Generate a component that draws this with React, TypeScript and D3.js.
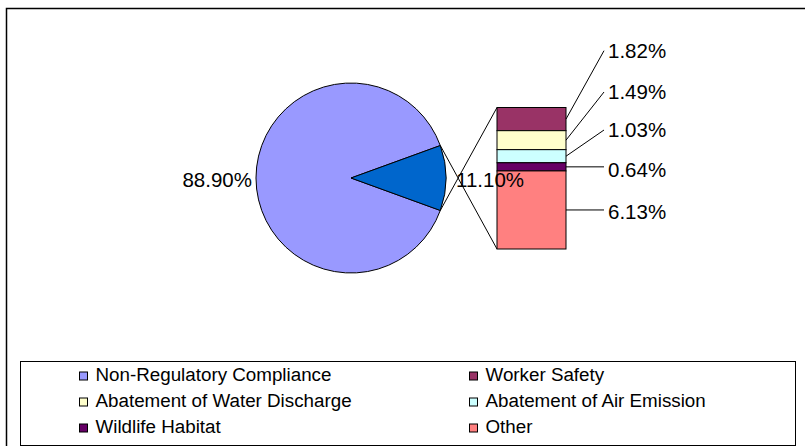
import React from "react";
import * as d3 from "d3";

const pieLabels = ["Non-Regulatory Compliance", "Regulatory Compliance"];
const pieValues = [88.9, 11.1];
const pieText = ["88.90%", "11.10%"];

const barCategories = ["Worker Safety", "Abatement of Water Discharge", "Abatement of Air Emission", "Wildlife Habitat", "Other"];
const barValues = [1.82, 1.49, 1.03, 0.64, 6.13];
const barText = ["1.82%", "1.49%", "1.03%", "0.64%", "6.13%"];
const barColors = ["#993366", "#FFFFCC", "#CCFFFF", "#660066", "#FF8080"];

const legendItems = [
  "Non-Regulatory Compliance", "Worker Safety",
  "Abatement of Water Discharge", "Abatement of Air Emission",
  "Wildlife Habitat", "Other",
];
const legendColors = ["#9999FF", "#993366", "#FFFFCC", "#CCFFFF", "#660066", "#FF8080"];
const pieColors = ["#9999FF", "#0066CC"];

export default function App() {
  const W = 805, H = 446;
  const cx = 351, cy = 178, r = 95;
  const font = "'Liberation Sans', Arial, sans-serif";

  const sliceAngle = (pieValues[1] / d3.sum(pieValues)) * 2 * Math.PI;
  const pie = d3.pie<number>().sort(null).value((d) => d)
    .startAngle(Math.PI / 2 + sliceAngle / 2)
    .endAngle(Math.PI / 2 + sliceAngle / 2 + 2 * Math.PI);
  const arcs = pie(pieValues);
  const arc = d3.arc<d3.PieArcDatum<number>>().innerRadius(0).outerRadius(r);

  const sl = arcs[1];
  const pt = (a: number) => [cx + r * Math.sin(a), cy - r * Math.cos(a)];
  const pTop = pt(sl.endAngle);
  const pBot = pt(sl.startAngle);

  const barX0 = 497, barX1 = 566;
  const total = d3.sum(barValues);
  const y = d3.scaleLinear().domain([0, total]).range([107.5, 249]);
  const cum = barValues.map((_, i) => d3.sum(barValues.slice(0, i)));
  const labelBase = [57.7, 99, 137, 177, 218.5];

  const legendRowY = [381, 407, 433];
  const legendColX = [79.5, 469.5];

  return (
    <svg width={W} height={H} style={{ position: "absolute", left: 0, top: 0 }}>
      <rect x={0} y={0} width={W} height={H} fill="#fff" />
      <rect x={6.5} y={8.5} width={W} height={H} fill="none" stroke="#000" strokeWidth={1.5} />

      <g transform={`translate(${cx},${cy})`}>
        {arcs.map((a, i) => (
          <path key={i} d={arc(a) as string} fill={pieColors[i]} stroke="#000" strokeWidth={1} />
        ))}
      </g>

      <line x1={pTop[0]} y1={pTop[1]} x2={barX0} y2={y(0)} stroke="#000" strokeWidth={1} />
      <line x1={pBot[0]} y1={pBot[1]} x2={barX0} y2={y(total)} stroke="#000" strokeWidth={1} />

      {barValues.map((v, i) => (
        <rect key={i} x={barX0} y={y(cum[i])} width={barX1 - barX0} height={y(cum[i] + v) - y(cum[i])}
          fill={barColors[i]} stroke="#000" strokeWidth={1} />
      ))}

      {barValues.map((v, i) => {
        const mid = y(cum[i] + v / 2);
        const ey = Math.min(mid, labelBase[i] - 7);
        return (
          <g key={i}>
            <line x1={barX1} y1={mid} x2={604} y2={ey} stroke="#000" strokeWidth={1} />
            <text x={608} y={labelBase[i]} fontFamily={font} fontSize={20.5} fill="#000">{barText[i]}</text>
          </g>
        );
      })}

      <text x={cx - r - 4} y={187} textAnchor="end" fontFamily={font} fontSize={20.5} fill="#000">{pieText[0]}</text>
      <text x={cx + r + 10} y={187} fontFamily={font} fontSize={20.5} fill="#000">{pieText[1]}</text>

      <rect x={20.5} y={361.5} width={775} height={84} fill="#fff" stroke="#000" strokeWidth={1} />
      {legendItems.map((t, i) => {
        const row = Math.floor(i / 2), col = i % 2;
        const lx = legendColX[col], ly = legendRowY[row];
        return (
          <g key={i}>
            <rect x={lx} y={ly - 9} width={8} height={8} fill={legendColors[i]} stroke="#000" strokeWidth={1} />
            <text x={lx + 16} y={ly} fontFamily={font} fontSize={18.8} fill="#000">{t}</text>
          </g>
        );
      })}
    </svg>
  );
}
